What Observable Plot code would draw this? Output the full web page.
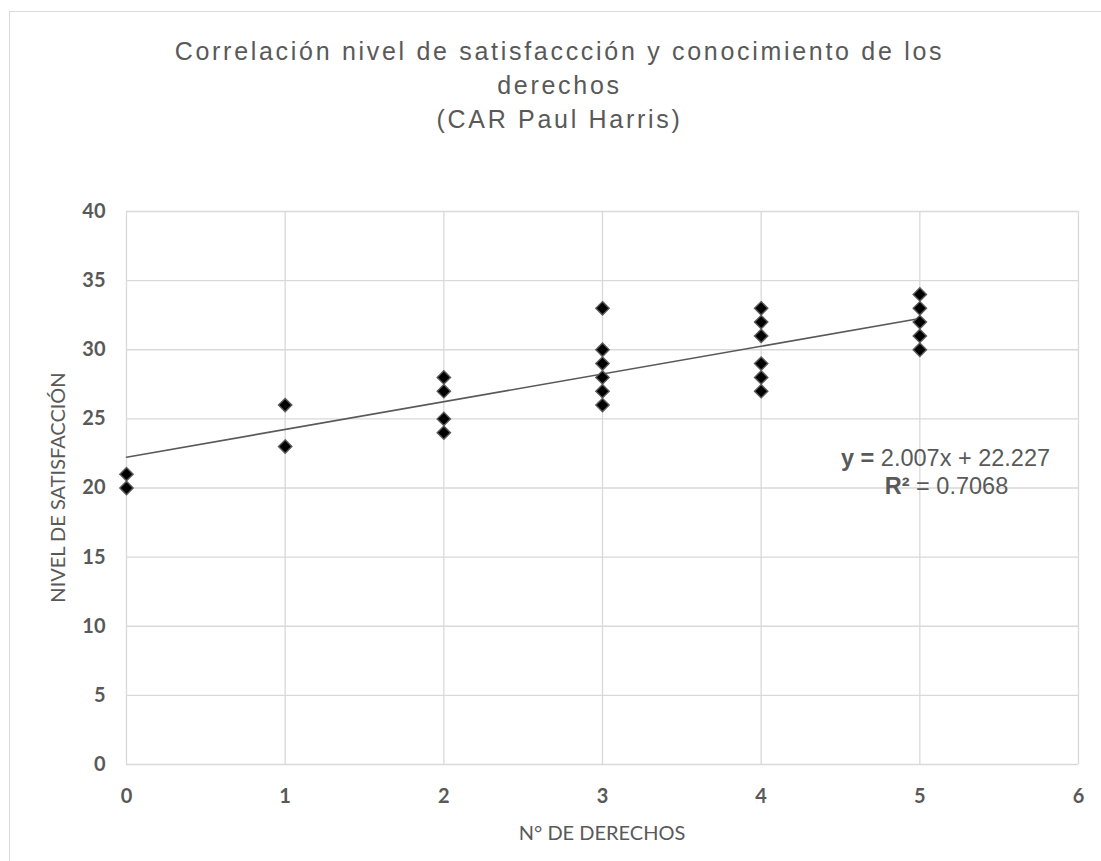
<!DOCTYPE html>
<html>
<head>
<meta charset="utf-8">
<script src="https://cdn.jsdelivr.net/npm/d3@7"></script>
<script src="https://cdn.jsdelivr.net/npm/@observablehq/plot@0.6"></script>
<style>
  html, body { margin: 0; padding: 0; background: #fff; }
  #wrap { position: relative; width: 1101px; height: 861px; overflow: hidden; }
  #frame { position: absolute; left: 9px; top: 11px; width: 1200px; height: 1000px; border: 1.5px solid #d9d9d9; box-sizing: border-box; }
  #title { position: absolute; left: 0; top: 34px; width: 1119px; text-align: center;
    font-family: "Liberation Sans", Arial, sans-serif; font-size: 25px; letter-spacing: 2.7px;
    color: #595959; line-height: 34px; }
  #chart { position: absolute; left: 0; top: 0; }
</style>
</head>
<body>
<div id="wrap">
  <div id="frame"></div>
  <div id="chart"></div>
  <div id="title">Correlación nivel de satisfaccción y conocimiento de los<br>derechos<br>(CAR Paul Harris)</div>
</div>
<script>
const derechos     = [0, 0, 1, 1, 2, 2, 2, 2, 3, 3, 3, 3, 3, 3, 4, 4, 4, 4, 4, 4, 5, 5, 5, 5, 5];
const satisfaccion = [20, 21, 23, 26, 24, 25, 27, 28, 26, 27, 28, 29, 30, 33, 27, 28, 29, 31, 32, 33, 30, 31, 32, 33, 34];
const xTicks = [0, 1, 2, 3, 4, 5, 6];
const yTicks = [0, 5, 10, 15, 20, 25, 30, 35, 40];
const slope = [2.007];
const intercept = [22.227];
const rSquared = [0.7068];
const trendX = [0, 5];

const points = derechos.map((d, i) => ({x: d, y: satisfaccion[i]}));
const trend = trendX.map(x => ({x, y: slope[0] * x + intercept[0]}));
const fmt = d => String(d);

const plot = Plot.plot({
  width: 1101,
  height: 861,
  marginLeft: 126,
  marginRight: 23,
  marginTop: 211,
  marginBottom: 97,
  style: {fontFamily: "Lato, sans-serif", background: "transparent", overflow: "visible"},
  x: {domain: [0, 6], ticks: xTicks, label: null, tickSize: 0, tickFormat: fmt},
  y: {domain: [0, 40], ticks: yTicks, label: null, tickSize: 0, tickFormat: fmt},
  marks: [
    Plot.gridX(xTicks, {stroke: "#d9d9d9", strokeOpacity: 1, strokeWidth: 1.3}),
    Plot.gridY(yTicks, {stroke: "#d9d9d9", strokeOpacity: 1, strokeWidth: 1.3}),
    Plot.axisX(xTicks, {tickSize: 0, tickPadding: 24, tickFormat: fmt, fontSize: 20, fontWeight: "bold", fill: "#595959", label: null}),
    Plot.axisY(yTicks, {tickSize: 0, tickPadding: 21, tickFormat: fmt, fontSize: 20, fontWeight: "bold", fill: "#595959", label: null}),
    Plot.lineY(trend, {x: "x", y: "y", stroke: "#595959", strokeWidth: 1.6}),
    Plot.dot(points, {x: "x", y: "y", symbol: "diamond2", r: 6, fill: "#000", stroke: "#5a5a5a", strokeWidth: 1.4})
  ]
});

document.getElementById("chart").appendChild(plot);

const svg = d3.select(plot);
const sx = plot.scale("x"), sy = plot.scale("y");

// axis titles
svg.append("text")
  .attr("x", (sx.apply(0) + sx.apply(6)) / 2)
  .attr("y", 840)
  .attr("text-anchor", "middle")
  .attr("font-family", "Lato, sans-serif")
  .attr("font-size", 20)
  .attr("fill", "#595959")
  .text("N° DE DERECHOS");

svg.append("text")
  .attr("transform", `translate(65,${(sy.apply(0) + sy.apply(40)) / 2}) rotate(-90)`)
  .attr("text-anchor", "middle")
  .attr("font-family", "Lato, sans-serif")
  .attr("font-size", 20)
  .attr("fill", "#595959")
  .text("NIVEL DE SATISFACCIÓN");

// regression equation label
const eqX = sx.apply(5.165);
const eq = svg.append("text")
  .attr("font-family", "Liberation Sans, Arial, sans-serif")
  .attr("font-size", 23.5)
  .attr("fill", "#595959")
  .attr("text-anchor", "middle");
const l1 = eq.append("tspan").attr("x", eqX).attr("y", sy.apply(21.52));
l1.append("tspan").attr("font-weight", "bold").text("y = ");
l1.append("tspan").text(`${slope[0]}x + ${intercept[0]}`);
const l2 = eq.append("tspan").attr("x", eqX + 1).attr("y", sy.apply(19.5));
l2.append("tspan").attr("font-weight", "bold").text("R² ");
l2.append("tspan").text(`= ${rSquared[0]}`);
</script>
</body>
</html>
